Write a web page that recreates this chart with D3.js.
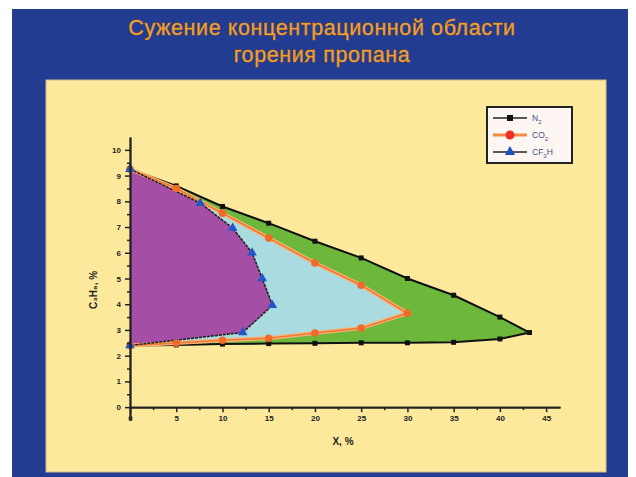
<!DOCTYPE html>
<html>
<head>
<meta charset="utf-8">
<script src="https://cdn.jsdelivr.net/npm/d3@7"></script>
<style>
  html, body { margin: 0; padding: 0; background: #fff; }
  svg { display: block; }
</style>
</head>
<body>
<div id="container"></div>
<script>
var titleLines = ['Сужение концентрационной области', 'горения пропана'],
    xTicks = [0, 5, 10, 15, 20, 25, 30, 35, 40, 45],
    yTicks = [0, 1, 2, 3, 4, 5, 6, 7, 8, 9, 10],
    // N2 boundary: upper branch left to right, then lower branch back
    n2X = [0, 5, 10, 15, 20, 25, 30, 35, 40, 43.2, 40, 35, 30, 25, 20, 15, 10, 5, 0],
    n2Y = [9.25, 8.6, 7.8, 7.15, 6.45, 5.8, 5.0, 4.35, 3.5, 2.9, 2.65, 2.52, 2.5, 2.5, 2.48, 2.47, 2.45, 2.42, 2.4],
    co2X = [0, 5, 10, 15, 20, 25, 30, 25, 20, 15, 10, 5, 0],
    co2Y = [9.25, 8.5, 7.54, 6.57, 5.6, 4.74, 3.65, 3.07, 2.88, 2.68, 2.6, 2.49, 2.4],
    cf3hX = [0, 7.6, 11.1, 13.2, 14.3, 15.4, 12.2, 0],
    cf3hY = [9.25, 7.93, 6.96, 6.0, 5.0, 3.96, 2.9, 2.4],
    width = 636,
    height = 477,
    svg, plot, x, y, line;

function toPoints(xs, ys) {
  return xs.map(function (v, i) { return [v, ys[i]]; });
}

svg = d3.select('#container').append('svg')
  .attr('width', width)
  .attr('height', height);

// background panels
svg.append('rect')
  .attr('x', 12).attr('y', 9)
  .attr('width', 616).attr('height', 468)
  .attr('fill', '#213c90');

svg.append('rect')
  .attr('x', 46).attr('y', 80)
  .attr('width', 560).attr('height', 392)
  .attr('fill', '#fce99c')
  .attr('stroke', '#d8b888')
  .attr('stroke-width', 1);

svg.selectAll('text.title')
  .data(titleLines)
  .enter()
  .append('text')
  .attr('class', 'title')
  .attr('x', 322)
  .attr('y', function (d, i) { return 35 + i * 27; })
  .attr('text-anchor', 'middle')
  .attr('font-family', 'Liberation Sans, Arial, sans-serif')
  .attr('font-size', 21.5)
  .attr('letter-spacing', 0.6)
  .attr('fill', '#eea038')
  .attr('stroke', '#94581e')
  .attr('stroke-width', 0.8)
  .attr('paint-order', 'stroke')
  .text(function (d) { return d; });

x = d3.scaleLinear().domain([0, 46.5]).range([130, 560]);
y = d3.scaleLinear().domain([-0.5, 10.5]).range([420, 137]);

line = d3.line()
  .x(function (d) { return x(d[0]); })
  .y(function (d) { return y(d[1]); });

plot = svg.append('g');

// filled regions, widest first
plot.append('path')
  .attr('d', line(toPoints(n2X, n2Y)) + 'Z')
  .attr('fill', '#6db83a');
plot.append('path')
  .attr('d', line(toPoints(co2X, co2Y)) + 'Z')
  .attr('fill', '#a9dbe0');
plot.append('path')
  .attr('d', line(toPoints(cf3hX, cf3hY)) + 'Z')
  .attr('fill', '#a44ea6');

// boundary lines
plot.append('path')
  .attr('d', line(toPoints(n2X, n2Y)))
  .attr('fill', 'none')
  .attr('stroke', '#111')
  .attr('stroke-width', 2);
plot.append('path')
  .attr('d', line(toPoints(co2X, co2Y)))
  .attr('fill', 'none')
  .attr('stroke', '#f7b27a')
  .attr('stroke-width', 4);
plot.append('path')
  .attr('d', line(toPoints(co2X, co2Y)))
  .attr('fill', 'none')
  .attr('stroke', '#f07a30')
  .attr('stroke-width', 1.6);
plot.append('path')
  .attr('d', line(toPoints(cf3hX, cf3hY)))
  .attr('fill', 'none')
  .attr('stroke', '#222')
  .attr('stroke-width', 1.6)
  .attr('stroke-dasharray', '3,1');

// markers
plot.selectAll('rect.n2')
  .data(toPoints(n2X, n2Y))
  .enter()
  .append('rect')
  .attr('class', 'n2')
  .attr('x', function (d) { return x(d[0]) - 2.5; })
  .attr('y', function (d) { return y(d[1]) - 2.5; })
  .attr('width', 5).attr('height', 5)
  .attr('fill', '#111');

plot.selectAll('circle.co2')
  .data(toPoints(co2X, co2Y))
  .enter()
  .append('circle')
  .attr('class', 'co2')
  .attr('cx', function (d) { return x(d[0]); })
  .attr('cy', function (d) { return y(d[1]); })
  .attr('r', 3.8)
  .attr('fill', '#f26a2a');

plot.selectAll('path.cf3h')
  .data(toPoints(cf3hX, cf3hY))
  .enter()
  .append('path')
  .attr('class', 'cf3h')
  .attr('transform', function (d) { return 'translate(' + x(d[0]) + ',' + y(d[1]) + ')'; })
  .attr('d', d3.symbol().type(d3.symbolTriangle).size(40))
  .attr('fill', '#2058c8');

// axes
svg.append('g')
  .attr('transform', 'translate(130,0)')
  .call(d3.axisLeft(y).tickValues(yTicks).tickSize(5).tickPadding(4).tickSizeOuter(0));
svg.append('g')
  .attr('transform', 'translate(130,0)')
  .call(d3.axisLeft(y).tickValues(d3.range(0.5, 10.5, 1)).tickSize(3).tickFormat('').tickSizeOuter(0));

svg.append('g')
  .attr('transform', 'translate(0,' + y(0) + ')')
  .call(d3.axisBottom(x).tickValues(xTicks).tickSize(5).tickPadding(3).tickSizeOuter(0));
svg.append('g')
  .attr('transform', 'translate(0,' + y(0) + ')')
  .call(d3.axisBottom(x).tickValues(d3.range(2.5, 46, 5)).tickSize(3).tickFormat('').tickSizeOuter(0));

svg.selectAll('.domain').attr('stroke', '#222').attr('stroke-width', 1.8);
svg.selectAll('.tick line').attr('stroke', '#222').attr('stroke-width', 1.5);
svg.selectAll('.tick text')
  .attr('font-family', 'Liberation Sans, Arial, sans-serif')
  .attr('font-size', 8)
  .attr('font-weight', 'bold')
  .attr('fill', '#222');

svg.append('text')
  .attr('transform', 'translate(97,290) rotate(-90)')
  .attr('text-anchor', 'middle')
  .attr('font-family', 'Liberation Sans, Arial, sans-serif')
  .attr('font-size', 10)
  .attr('font-weight', 'bold')
  .attr('fill', '#222')
  .text('C₃H₈, %');

svg.append('text')
  .attr('x', 343).attr('y', 445)
  .attr('text-anchor', 'middle')
  .attr('font-family', 'Liberation Sans, Arial, sans-serif')
  .attr('font-size', 10)
  .attr('font-weight', 'bold')
  .attr('fill', '#222')
  .text('Х, %');

// legend
var legend = svg.append('g').attr('transform', 'translate(487,107)');
legend.append('rect')
  .attr('width', 85).attr('height', 56)
  .attr('fill', '#fdf6f2')
  .attr('stroke', '#222')
  .attr('stroke-width', 2);

var legendRows = legend.selectAll('g.row')
  .data(['N2', 'CO2', 'CF3H'])
  .enter()
  .append('g')
  .attr('class', 'row')
  .attr('transform', function (d, i) { return 'translate(0,' + (11 + i * 17) + ')'; });

legendRows.append('line')
  .attr('x1', 6).attr('x2', 40)
  .attr('stroke', function (d) { return d === 'CO2' ? '#f58a45' : '#222'; })
  .attr('stroke-width', function (d) { return d === 'CO2' ? 3 : 1.5; });

legendRows.each(function (d) {
  var g = d3.select(this);
  if (d === 'N2') {
    g.append('rect').attr('x', 20).attr('y', -3).attr('width', 6).attr('height', 6).attr('fill', '#111');
  } else if (d === 'CO2') {
    g.append('circle').attr('cx', 23).attr('r', 4.5).attr('fill', '#f0301e');
  } else {
    g.append('path').attr('transform', 'translate(23,0)')
      .attr('d', d3.symbol().type(d3.symbolTriangle).size(45)).attr('fill', '#1f4fc0');
  }
});

var labels = legendRows.append('text')
  .attr('x', 45).attr('y', 3)
  .attr('font-family', 'Liberation Sans, Arial, sans-serif')
  .attr('font-size', 8.5)
  .attr('fill', '#445080');

labels.each(function (d) {
  var t = d3.select(this),
      parts = { N2: ['N', '2', ''], CO2: ['CO', '2', ''], CF3H: ['CF', '3', 'H'] }[d];
  t.append('tspan').text(parts[0]);
  t.append('tspan').attr('dy', 3).attr('font-size', 6).text(parts[1]);
  if (parts[2]) { t.append('tspan').attr('dy', -3).text(parts[2]); }
});
</script>
</body>
</html>
